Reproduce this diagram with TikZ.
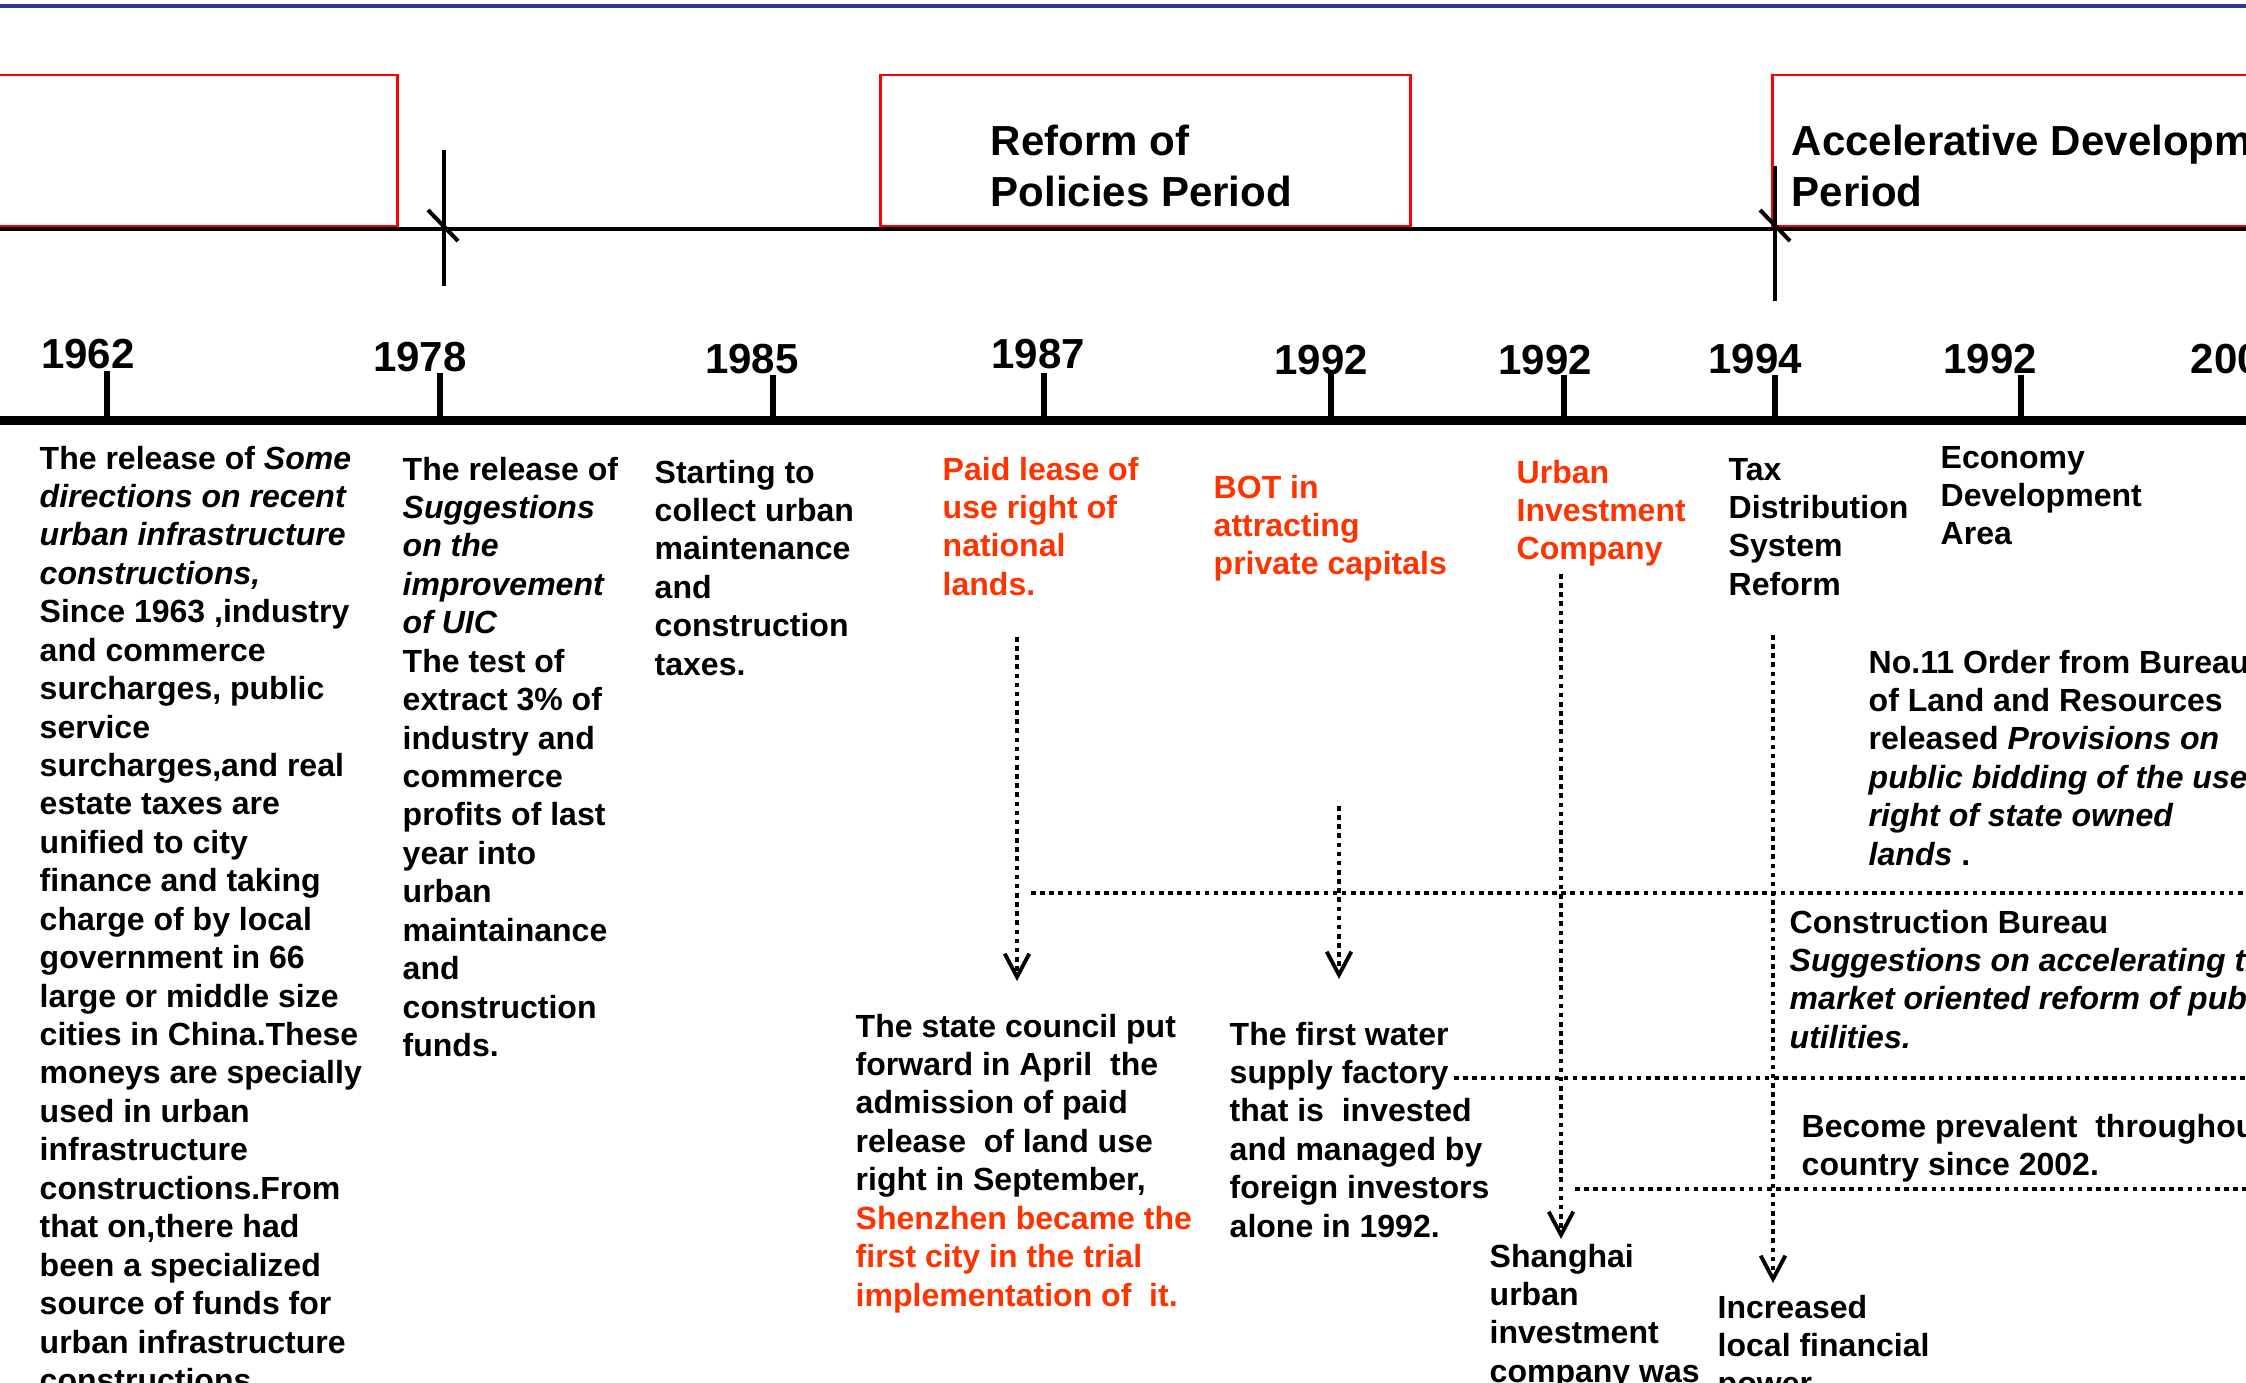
\documentclass[tikz,border=0pt]{standalone}
\usepackage{fontspec}
\setmainfont{Liberation Sans}
\usetikzlibrary{arrows.meta}
\definecolor{hdrblue}{RGB}{51,51,153}
\definecolor{ored}{RGB}{255,51,0}
\definecolor{boxred}{RGB}{255,0,0}
\newcommand{\mlines}[1]{\begin{tabular}[t]{@{}l@{}}#1\end{tabular}}
\begin{document}
\begin{tikzpicture}[x=0.01cm, y=-0.01cm,
  body/.style={anchor=base west, inner sep=0pt, font=\fontsize{9.105}{10.93}\selectfont\bfseries},
  big/.style={inner sep=0pt, font=\fontsize{11.95}{14.34}\selectfont\bfseries},
  year/.style={big, anchor=base},
  redtxt/.style={text=ored},
  tick/.style={line width=1.71pt},
  dots/.style={line width=1.4pt, dash pattern=on 1.3pt off 1.3pt},
  arr/.style={-{Straight Barb[length=6.6pt,width=7pt,line width=1.1pt]}}]
\useasboundingbox (0,0) rectangle (2246,1382);
\clip (0,0) rectangle (2246,1382);
\fill[white] (0,0) rectangle (2246,1382);

% top rule
\draw[hdrblue, line width=0.9pt] (0,6) -- (2246,6);

% upper period line
\draw[line width=0.9pt] (0,229) -- (2246,229);
\draw[boxred, line width=0.85pt] (-10,75) rectangle (397,226);
\draw[boxred, line width=0.85pt] (880,75) rectangle (1410,226);
\draw[boxred, line width=0.85pt] (1772,75) rectangle (2270,226);
\draw[line width=1pt] (444,150) -- (444,286);
\draw[line width=1.14pt] (428,210) -- (458,241);
\draw[line width=1pt] (1775,166) -- (1775,301);
\draw[line width=1.14pt] (1760,210) -- (1790,241);

\node[big, anchor=base west] (reform) at (990,156) {\mlines{Reform of\\Policies Period}};
\node[big, anchor=base west] (accel) at (1791,156) {\mlines{Accelerative Development\\Period}};

% lower time axis
\draw[line width=2.28pt] (0,420.5) -- (2246,420.5);
\draw[tick] (107,371) -- (107,420);
\draw[tick] (440,373) -- (440,420);
\draw[tick] (773,375) -- (773,420);
\draw[tick] (1044,373) -- (1044,420);
\draw[tick] (1331,373) -- (1331,420);
\draw[tick] (1564,375) -- (1564,423);
\draw[tick] (1775,375) -- (1775,423);
\draw[tick] (2021,375) -- (2021,423);

\node[year] (y1962) at (88,368) {1962};
\node[year] (y1978) at (420,371) {1978};
\node[year] (y1985) at (752,373) {1985};
\node[year] (y1987) at (1038,368) {1987};
\node[year] (y1992a) at (1321,374) {1992};
\node[year] (y1992b) at (1545,374) {1992};
\node[year] (y1994) at (1755,373) {1994};
\node[year] (y1992c) at (1990,373) {1992};
\node[big, anchor=base west] (y2002) at (2190,373) {2002};

% texts under the axis
\node[body] (t1962) at (39,469) {\mlines{The release of \textit{Some}\\
\textit{directions on recent}\\
\textit{urban infrastructure}\\
\textit{constructions,}\\
Since 1963 ,industry\\
and commerce\\
surcharges, public\\
service\\
surcharges,and real\\
estate taxes are\\
unified to city\\
finance and taking\\
charge of by local\\
government in 66\\
large or middle size\\
cities in China.These\\
moneys are specially\\
used in urban\\
infrastructure\\
constructions.From\\
that on,there had\\
been a specialized\\
source of funds for\\
urban infrastructure\\
constructions.}};

\node[body] (t1978) at (402,480) {\mlines{The release of\\
\textit{Suggestions}\\
\textit{on the}\\
\textit{improvement}\\
\textit{of UIC}\\
The test of\\
extract 3\% of\\
industry and\\
commerce\\
profits of last\\
year into\\
urban\\
maintainance\\
and\\
construction\\
funds.}};

\node[body] (t1985) at (654,483) {\mlines{Starting to\\collect urban\\maintenance\\and\\construction\\taxes.}};
\node[body, redtxt] (t1987) at (942,480) {\mlines{Paid lease of\\use right of\\national\\lands.}};
\node[body, redtxt] (tbot) at (1213,498) {\mlines{BOT in\\attracting\\private capitals}};
\node[body, redtxt] (tuic) at (1516,483) {\mlines{Urban\\Investment\\Company}};
\node[body] (ttax) at (1728,480) {\mlines{Tax\\Distribution\\System\\Reform}};
\node[body] (teda) at (1940,468) {\mlines{Economy\\Development\\Area}};

\node[body] (torder) at (1868,673) {\mlines{No.11 Order from Bureau\\of Land and Resources\\released \textit{Provisions on}\\\textit{public bidding of the use}\\\textit{right of state owned}\\\textit{lands} .}};
\node[body] (tcons) at (1789,933) {\mlines{Construction Bureau\\\textit{Suggestions on accelerating the}\\\textit{market oriented reform of public}\\\textit{utilities.}}};
\node[body] (tprev) at (1801,1137) {\mlines{Become prevalent\ \ throughout the\\country since 2002.}};

\node[body] (tstate) at (855,1037) {\mlines{The state council put\\forward in April\ \ the\\admission of paid\\release\ \ of land use\\right in September,\\\color{ored}Shenzhen became the\\\color{ored}first city in the trial\\\color{ored}implementation of\ \ it.}};
\node[body] (twater) at (1229,1045) {\mlines{The first water\\supply factory\\that is\ \ invested\\and managed by\\foreign investors\\alone in 1992.}};
\node[body] (tsh) at (1489,1267) {\mlines{Shanghai\\urban\\investment\\company was}};
\node[body] (tinc) at (1717,1318) {\mlines{Increased\\local financial\\power}};

% dotted connectors
\coordinate (v1s) at (1017,637);  \coordinate (v1e) at (1017,981);
\coordinate (v2s) at (1339,806);  \coordinate (v2e) at (1339,979);
\coordinate (v3s) at (1561,574);  \coordinate (v3e) at (1561,1239);
\coordinate (v4s) at (1773,635);  \coordinate (v4e) at (1773,1283);
\draw[dots, arr] (v1s) -- (v1e);
\draw[dots, arr] (v2s) -- (v2e);
\draw[dots, arr] (v3s) -- (v3e);
\draw[dots, arr] (v4s) -- (v4e);

\coordinate (h1s) at (1031,893);  \coordinate (h1e) at (2246,893);
\coordinate (h2s) at (1454,1078); \coordinate (h2e) at (2246,1078);
\coordinate (h3s) at (1575,1189); \coordinate (h3e) at (2246,1189);
\draw[dots] (h1s) -- (h1e);
\draw[dots] (h2s) -- (h2e);
\draw[dots] (h3s) -- (h3e);
\end{tikzpicture}
\end{document}
